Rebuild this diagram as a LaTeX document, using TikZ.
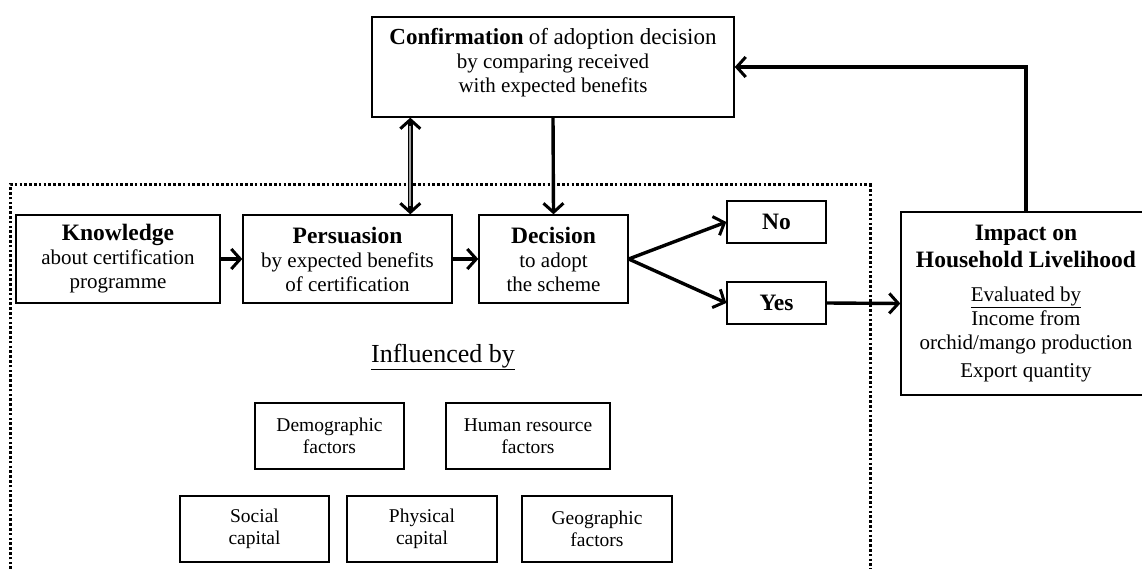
\documentclass[tikz,border=0pt]{standalone}
\usepackage{fontspec}
\setmainfont{Liberation Serif}
\usetikzlibrary{arrows.meta}
\begin{document}
\begin{tikzpicture}[x=1pt,y=-1pt,
  box/.style={draw, line width=1.4pt, inner sep=0pt, align=center,
              font=\fontsize{21}{24}\selectfont},
  fbox/.style={box, minimum height=66pt, font=\fontsize{19.5}{22}\selectfont},
  txt/.style={inner sep=0pt, align=center, font=\fontsize{21}{24}\selectfont},
  barb/.tip={Straight Barb[length=9pt,width=20pt,line width=3pt]},
  arr/.style={line width=3.4pt, -barb},
  dots/.style={line width=3pt, dash pattern=on 2.6pt off 2.2pt}
]
\useasboundingbox (0,0) rectangle (1142,569);

% dotted influence region
\draw[dots] (10,569) -- (10,185) -- (870,185) -- (870,569);

% main boxes
\node[box, minimum width=362pt, minimum height=100pt] (conf) at (553,67) {};
\node[txt] (conft) at (553,63) {{\bfseries\fontsize{23}{24}\selectfont Confirmation} {\fontsize{23}{24}\selectfont of adoption decision}\\ by comparing received\\ with expected benefits};

\node[box, minimum width=204pt, minimum height=88pt] (know) at (118,259)
  {{\bfseries\fontsize{23.5}{24}\selectfont Knowledge}\\ about certification\\ programme};
\node[box, minimum width=209pt, minimum height=88pt] (pers) at (347.5,259)
  {{\bfseries\fontsize{23.5}{24}\selectfont Persuasion}\\ by expected benefits\\ of certification};
\node[box, minimum width=149pt, minimum height=88pt] (dec) at (553.5,259)
  {{\bfseries\fontsize{23.5}{24}\selectfont Decision}\\ to adopt\\ the scheme};
\node[box, minimum width=99pt, minimum height=42pt] (no) at (776.5,222)
  {\bfseries\fontsize{23.5}{24}\selectfont No};
\node[box, minimum width=99pt, minimum height=42pt] (yes) at (776.5,303)
  {\bfseries\fontsize{23.5}{24}\selectfont Yes};

\node[box, minimum width=250pt, minimum height=183pt] (imp) at (1026,303.5) {};
\node[txt, font=\bfseries\fontsize{23.5}{27}\selectfont] (impt) at (1026,246) {Impact on\\ Household Livelihood};
\node[txt] (impe) at (1026,320) {\underline{Evaluated by}\\ Income from\\ orchid/mango production};
\node[txt] (impx) at (1026,373) {Export quantity};

% influenced by
\node[inner sep=0pt, font=\fontsize{26}{28}\selectfont] (infl) at (443,357) {\underline{Influenced by}};

% factor boxes
\node[fbox, minimum width=149pt] (demo) at (329.5,436) {Demographic\\ factors};
\node[fbox, minimum width=164pt] (hum) at (528,436) {Human resource\\ factors};
\node[fbox, minimum width=149pt] (soc) at (254.5,529) {Social\\ capital};
\node[fbox, minimum width=150pt] (phy) at (422,529) {Physical\\ capital};
\node[fbox, minimum width=150pt] (geo) at (597,529) {Geographic\\ factors};

% connectors
\draw[arr] (know.east) -- (pers.west);
\draw[arr] (pers.east) -- (dec.west);
\draw[arr] (dec.east) -- (no.west);
\draw[arr] (dec.east) -- (yes.west);
\draw[arr] (yes.east) -- (imp.west);
\draw[arr] (conf.south) -- (dec.north);
\draw[arr] (imp.north) |- (conf.east);

% double-headed grey arrow
\coordinate (da) at ([xshift=39pt]conf.south west);
\coordinate (db) at (da |- pers.north);
\draw[line width=4.6pt, barb-barb] (da) -- (db);
\draw[line width=2.2pt, gray!75, shorten <=8pt, shorten >=8pt] (da) -- (db);
\end{tikzpicture}
\end{document}
